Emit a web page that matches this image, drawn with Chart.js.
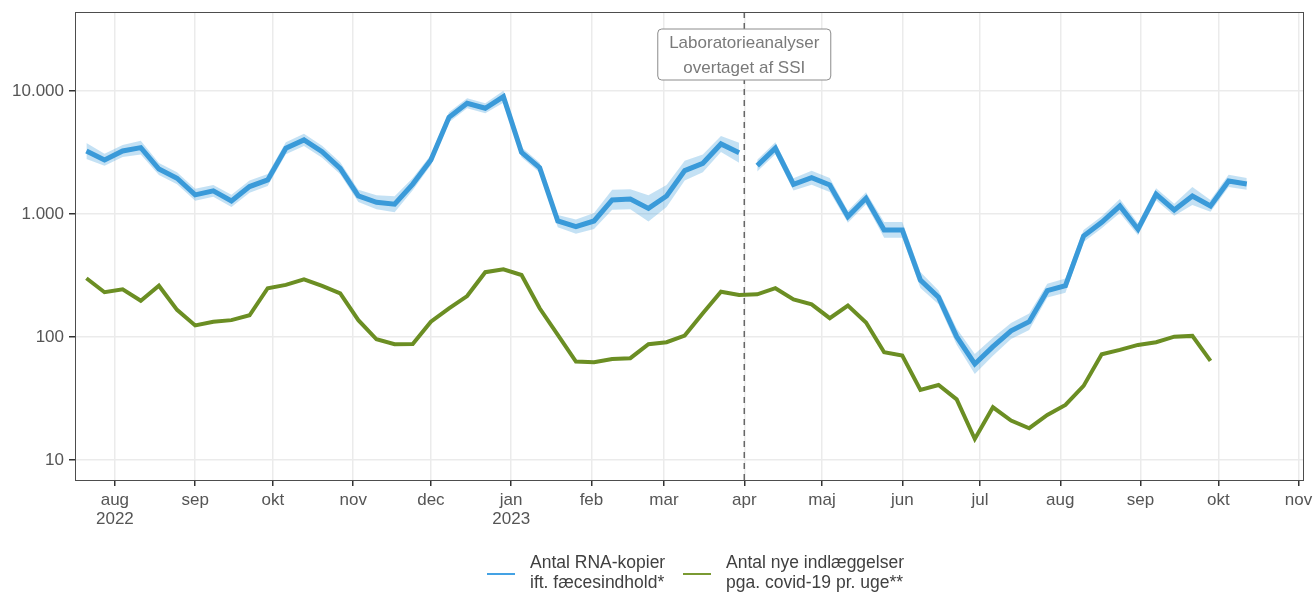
<!DOCTYPE html>
<html lang="da">
<head>
<meta charset="utf-8">
<title>Spildevand og indlæggelser</title>
<script src="https://cdn.jsdelivr.net/npm/chart.js@4.4.1/dist/chart.umd.min.js"></script>
<style>
  html, body { margin: 0; padding: 0; background: #fff; }
  #wrap { position: relative; width: 1314px; height: 600px; }
  #legend {
    position: absolute; left: 0; top: 552px; width: 1314px;
    font-family: "Liberation Sans", Arial, sans-serif; font-size: 17.5px; color: #404040;
  }
  .item { position: absolute; top: 0; line-height: 20px; }
  .swatch { position: absolute; top: 21px; height: 2px; width: 28px; }
</style>
</head>
<body>
<div id="wrap">
  <canvas id="chart"></canvas>
  <div id="legend"></div>
</div>
<script>
// days counted from 1 aug 2022, one point per week
const firstWeekDay = -11;
const labChangeIndex = 36; // line breaks after this week (lab change)

const monthDays = [0, 31, 61, 92, 122, 153, 184, 212, 243, 273, 304, 334, 365, 396, 426, 457];
const monthLabels = [['aug', '2022'], 'sep', 'okt', 'nov', 'dec', ['jan', '2023'], 'feb', 'mar',
  'apr', 'maj', 'jun', 'jul', 'aug', 'sep', 'okt', 'nov'];

const yTicks = [10, 100, 1000, 10000];

const rnaCopies = [3250, 2750, 3250, 3460, 2320, 1950, 1430, 1540, 1275, 1670, 1890, 3420, 4000, 3210,
  2350, 1400, 1245, 1200, 1750, 2750, 6110, 7940, 7230, 8990, 3170, 2380, 877, 788, 877, 1300, 1320,
  1110, 1400, 2250, 2580, 3710, 3150, 2470, 3420, 1740, 1970, 1720, 951, 1340, 741, 741, 290, 210,
  100.5, 60.3, 83.4, 112, 133, 238, 261, 662, 856, 1160, 751, 1445, 1078, 1400, 1160, 1855, 1753];

const rnaUpper = [3780, 3080, 3640, 3940, 2600, 2180, 1600, 1720, 1430, 1870, 2110, 3830, 4480, 3590,
  2630, 1570, 1420, 1390, 1960, 3020, 6710, 8720, 7940, 10060, 3480, 2610, 980, 900, 1020, 1570, 1590,
  1420, 1720, 2710, 3050, 4310, 3800, 2760, 3830, 1950, 2250, 1960, 1060, 1500, 860, 860, 337, 239,
  117, 72.7, 98.7, 130, 155, 271, 298, 741, 958, 1320, 840, 1620, 1210, 1660, 1300, 2080, 1960];

const rnaLower = [2800, 2460, 2900, 3040, 2070, 1740, 1280, 1380, 1140, 1490, 1690, 3060, 3570, 2870,
  2100, 1250, 1090, 1030, 1560, 2500, 5560, 7230, 6580, 8030, 2890, 2170, 780, 690, 755, 1080, 1090,
  870, 1140, 1870, 2180, 3190, 2610, 2210, 3060, 1550, 1730, 1510, 850, 1200, 640, 640, 250, 184,
  86.5, 50, 70.4, 96.4, 114, 209, 229, 592, 765, 1020, 671, 1290, 965, 1180, 1040, 1660, 1570];

const admissions = [300, 231, 244, 197, 261, 166, 124, 133, 137, 150, 249, 265, 294, 260, 226, 137,
  95.7, 87.2, 87.6, 133, 171, 215, 336, 355, 319, 171, 104, 63, 62.2, 66.2, 67.2, 87.2, 90.6, 102.5,
  156, 233, 219, 222, 249, 202, 184, 142, 180, 131, 75.1, 70.5, 37.1, 40.7, 31.1, 14.8, 26.8, 20.9,
  18.1, 23.2, 28, 40, 72.3, 78.4, 86.1, 90.6, 100.5, 102, 63.8];

const labels = ['Antal RNA-kopier\nift. fæcesindhold*', 'Antal nye indlæggelser\npga. covid-19 pr. uge**'];
const blue = '#3a9ad9';
const green = '#6b8e23';
const font = '"Liberation Sans", Arial, sans-serif';

function weekDay(i) { return firstWeekDay + 7 * i; }

// points with a null in between the two lab periods so line and band break
function withBreak(values) {
  const pts = [];
  values.forEach((v, i) => {
    pts.push({ x: weekDay(i), y: v });
    if (i === labChangeIndex) pts.push({ x: weekDay(i) + 3.5, y: null });
  });
  return pts;
}

function dotThousands(v) {
  return String(v).replace(/\B(?=(\d{3})+(?!\d))/g, '.');
}

const panelPlugin = {
  id: 'panel',
  afterDatasetsDraw(chart) {
    const { ctx, chartArea: a, scales } = chart;
    const x = scales.x.getPixelForValue(243);
    ctx.save();
    ctx.strokeStyle = '#666';
    ctx.lineWidth = 1.5;
    ctx.setLineDash([6, 5]);
    ctx.beginPath();
    ctx.moveTo(x, a.top);
    ctx.lineTo(x, a.bottom);
    ctx.stroke();
    ctx.setLineDash([]);

    const w = 173, h = 51, top = a.top + 17;
    ctx.beginPath();
    ctx.roundRect(x - w / 2, top, w, h, 4);
    ctx.fillStyle = '#fff';
    ctx.fill();
    ctx.strokeStyle = '#8c8c8c';
    ctx.lineWidth = 1;
    ctx.stroke();
    ctx.fillStyle = '#7a7a7a';
    ctx.font = '17px ' + font;
    ctx.textAlign = 'center';
    ctx.textBaseline = 'middle';
    ctx.fillText('Laboratorieanalyser', x, top + 14);
    ctx.fillText('overtaget af SSI', x, top + 39);

    ctx.strokeStyle = '#4d4d4d';
    ctx.lineWidth = 1;
    ctx.strokeRect(a.left + 0.5, a.top + 0.5, a.right - a.left - 1, a.bottom - a.top - 1);
    ctx.restore();
  }
};

const ctx = document.getElementById('chart').getContext('2d');
const chart = new Chart(ctx, {
  type: 'line',
  data: {
    datasets: [
      {
        label: 'lower',
        data: withBreak(rnaLower),
        borderWidth: 0,
        pointRadius: 0,
        fill: false,
        order: 3,
      },
      {
        label: 'upper',
        data: withBreak(rnaUpper),
        borderWidth: 0,
        pointRadius: 0,
        backgroundColor: 'rgba(58, 154, 217, 0.3)',
        fill: '-1',
        order: 2,
      },
      {
        label: labels[0],
        data: withBreak(rnaCopies),
        borderColor: blue,
        borderWidth: 5,
        pointRadius: 0,
        fill: false,
        order: 1,
        legend: true,
      },
      {
        label: labels[1],
        data: admissions.map((v, i) => ({ x: weekDay(i), y: v })),
        borderColor: green,
        borderWidth: 4,
        pointRadius: 0,
        fill: false,
        order: 1,
        legend: true,
      },
    ],
  },
  options: {
    responsive: true,
    maintainAspectRatio: false,
    animation: false,
    layout: { padding: { top: 12, right: 10, left: 0, bottom: 0 } },
    plugins: {
      legend: { display: false },
      tooltip: { enabled: false },
    },
    scales: {
      x: {
        type: 'linear',
        min: -15.4,
        max: 459.1,
        afterBuildTicks: (scale) => { scale.ticks = monthDays.map(v => ({ value: v })); },
        afterFit: (scale) => { scale.height = 119; scale.paddingLeft = 0; scale.paddingRight = 0; },
        ticks: {
          autoSkip: false,
          maxRotation: 0,
          color: '#555',
          padding: 5,
          font: { family: font, size: 17, lineHeight: 1.12 },
          callback: (v) => monthLabels[monthDays.indexOf(v)],
        },
        grid: {
          color: '#ebebeb',
          lineWidth: 1.5,
          tickColor: '#333',
          tickLength: 5,
        },
        border: { display: false },
      },
      y: {
        type: 'logarithmic',
        min: 6.74,
        max: 43850,
        afterBuildTicks: (scale) => { scale.ticks = yTicks.map(v => ({ value: v })); },
        afterFit: (scale) => { scale.width = 75; scale.paddingTop = 0; scale.paddingBottom = 0; },
        ticks: {
          color: '#555',
          padding: 5,
          font: { family: font, size: 17 },
          callback: (v) => dotThousands(v),
        },
        grid: {
          color: '#ebebeb',
          lineWidth: 1.5,
          tickColor: '#333',
          tickLength: 6,
        },
        border: { display: false },
      },
    },
  },
  plugins: [panelPlugin],
});

// legend below the plot
const legend = document.getElementById('legend');
const legendX = [487, 683];
chart.data.datasets.filter(d => d.legend).forEach((d, i) => {
  const sw = document.createElement('div');
  sw.className = 'swatch';
  sw.style.left = legendX[i] + 'px';
  sw.style.background = d.borderColor === blue ? '#44a2e4' : '#7a9a32';
  legend.appendChild(sw);
  const item = document.createElement('div');
  item.className = 'item';
  item.style.left = (legendX[i] + 43) + 'px';
  item.innerHTML = d.label.split('\n').join('<br>');
  legend.appendChild(item);
});
</script>
</body>
</html>
